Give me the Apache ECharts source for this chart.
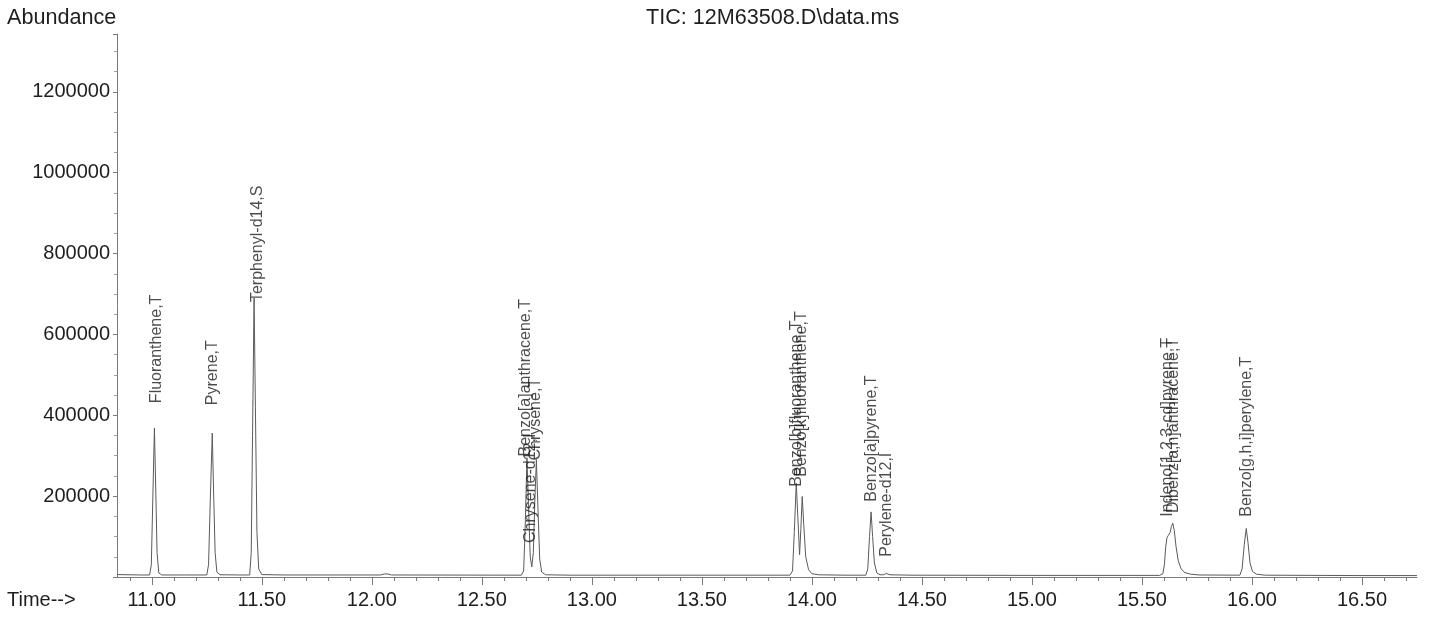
<!DOCTYPE html>
<html>
<head>
<meta charset="utf-8">
<title>TIC: 12M63508.D\data.ms</title>
<script src="https://cdn.jsdelivr.net/npm/echarts@6/dist/echarts.min.js"></script>
<style>
  html, body { margin: 0; padding: 0; background: #ffffff; }
  #chart { width: 1429px; height: 620px; }
</style>
</head>
<body>
<div id="chart"></div>
<script>
// Total ion chromatogram trace: [retention time (min), abundance]
const tracePoints = [
  [10.842, 6000], [10.95, 5000], [10.99, 5000], [10.998, 30000], [11.005, 200000],
  [11.012, 368000], [11.018, 220000], [11.024, 60000], [11.032, 10000], [11.045, 5000],
  [11.15, 5000],
  [11.25, 5000], [11.258, 30000], [11.266, 190000], [11.275, 356000], [11.281, 210000],
  [11.288, 60000], [11.296, 12000], [11.31, 5500], [11.40, 5000],
  [11.445, 5000], [11.452, 60000], [11.458, 350000], [11.465, 690000], [11.471, 420000],
  [11.478, 110000], [11.486, 20000], [11.50, 6000], [11.60, 5000],
  [12.04, 5000], [12.058, 7500], [12.065, 11000], [12.072, 7500], [12.09, 5000],
  [12.68, 4500], [12.69, 15000], [12.697, 120000], [12.705, 295000], [12.712, 180000],
  [12.72, 50000], [12.727, 25000], [12.734, 60000], [12.741, 190000], [12.748, 290000],
  [12.755, 170000], [12.763, 45000], [12.772, 12000], [12.79, 5500], [12.90, 4500],
  [13.90, 4500], [13.912, 15000], [13.92, 110000], [13.929, 232000], [13.936, 150000],
  [13.944, 55000], [13.95, 120000], [13.956, 199000], [13.963, 130000], [13.972, 50000],
  [13.985, 18000], [14.00, 8000], [14.03, 5500], [14.15, 4500],
  [14.245, 4500], [14.254, 20000], [14.262, 100000], [14.269, 161000], [14.276, 100000],
  [14.284, 35000], [14.295, 10000], [14.31, 5500],
  [14.325, 5500], [14.338, 8500], [14.355, 5500], [14.45, 4500], [15.00, 4000],
  [15.58, 4000], [15.595, 8000], [15.602, 30000], [15.608, 75000], [15.614, 98000],
  [15.62, 103000], [15.628, 110000], [15.634, 125000], [15.64, 133000], [15.647, 115000],
  [15.655, 75000], [15.665, 40000], [15.678, 20000], [15.695, 11000], [15.72, 7000],
  [15.76, 5000],
  [15.945, 4500], [15.955, 20000], [15.965, 80000], [15.974, 120000], [15.982, 85000],
  [15.991, 35000], [16.002, 14000], [16.02, 7000], [16.06, 4500],
  [16.50, 3500], [16.75, 3500]
];

// Compound annotations: name, time of the label and abundance where the text starts
const peakNames = [
  'Fluoranthene,T', 'Pyrene,T', 'Terphenyl-d14,S', 'Chrysene-d12,I',
  'Benzo[a]anthracene,T', 'Chrysene,T', 'Benzo[b]fluoranthene,T', 'Benzo[k]fluoranthene,T',
  'Benzo[a]pyrene,T', 'Perylene-d12,I', 'Indeno[1,2,3-cd]pyrene,T',
  'Dibenz[a,h]anthracene,T', 'Benzo[g,h,i]perylene,T'
];
const peakLabelTimes = [
  11.020, 11.277, 11.481, 12.720,
  12.699, 12.743, 13.930, 13.951,
  14.273, 14.338, 15.616,
  15.646, 15.977
];
const peakLabelAbundance = [
  430000, 425000, 680000, 84000,
  298000, 288000, 223000, 248000,
  186000, 50000, 149000,
  158000, 149000
];

// Axis ticks
const timeMajorTicks = [11.0, 11.5, 12.0, 12.5, 13.0, 13.5, 14.0, 14.5, 15.0, 15.5, 16.0, 16.5];
const timeTickLabels = ['11.00', '11.50', '12.00', '12.50', '13.00', '13.50', '14.00',
                        '14.50', '15.00', '15.50', '16.00', '16.50'];
const abundanceTickLabels = ['200000', '400000', '600000', '800000', '1000000', '1200000'];

const timeMin = 10.842, timeMax = 16.75;
const abundanceMax = 1343000;

// minor time ticks every 0.1 min
const timeMinorTicks = [];
for (let i = 109; i <= 167; i++) timeMinorTicks.push(i / 10);

const FONT = '"Liberation Sans", Arial, Helvetica, sans-serif';
const AXIS_GREY = '#7a7a7a';
const TEXT = '#1e1e1e';

const chart = echarts.init(document.getElementById('chart'), null, { renderer: 'canvas' });

chart.setOption({
  animation: false,
  backgroundColor: '#ffffff',
  textStyle: { fontFamily: FONT },
  grid: { left: 117, right: 12, top: 34, bottom: 43 },
  xAxis: [
    {
      type: 'value', min: timeMin, max: timeMax,
      axisLine: { show: true, onZero: false, lineStyle: { color: AXIS_GREY, width: 1 } },
      axisTick: { show: true, customValues: timeMajorTicks, length: 8, lineStyle: { color: AXIS_GREY } },
      axisLabel: {
        show: true, customValues: timeMajorTicks, margin: 13,
        fontFamily: FONT, fontSize: 20, color: TEXT,
        formatter: v => timeTickLabels[timeMajorTicks.findIndex(t => Math.abs(t - v) < 1e-6)] || ''
      },
      splitLine: { show: false }
    },
    {
      type: 'value', min: timeMin, max: timeMax, position: 'bottom',
      axisLine: { show: false },
      axisTick: { show: true, customValues: timeMinorTicks, length: 4, lineStyle: { color: AXIS_GREY } },
      axisLabel: { show: false },
      splitLine: { show: false }
    }
  ],
  yAxis: {
    type: 'value', min: 0, max: abundanceMax, interval: 200000,
    axisLine: { show: true, lineStyle: { color: AXIS_GREY, width: 1 } },
    axisTick: { show: true, length: 4, lineStyle: { color: AXIS_GREY } },
    minorTick: { show: true, splitNumber: 4, length: 3, lineStyle: { color: '#a0a0a0' } },
    axisLabel: {
      show: true, margin: 7, fontFamily: FONT, fontSize: 20, color: TEXT,
      formatter: v => abundanceTickLabels.includes(String(v)) ? String(v) : ''
    },
    splitLine: { show: false }
  },
  series: [
    {
      type: 'line',
      data: tracePoints,
      showSymbol: false,
      symbol: 'none',
      lineStyle: { color: '#5a5a5a', width: 1 },
      silent: true,
      z: 2
    },
    {
      type: 'scatter',
      data: peakNames.map((n, i) => ({ name: n, value: [peakLabelTimes[i], peakLabelAbundance[i]] })),
      symbolSize: 1,
      itemStyle: { color: 'rgba(0,0,0,0)' },
      silent: true,
      z: 3,
      label: {
        show: true, position: 'inside', rotate: 90, align: 'left', verticalAlign: 'middle',
        formatter: '{b}', fontFamily: FONT, fontSize: 16, color: TEXT
      }
    }
  ],
  graphic: [
    { type: 'text', left: 7, top: 7,
      style: { text: 'Abundance', font: '21.6px ' + FONT, fill: TEXT } },
    { type: 'text', left: 646, top: 7,
      style: { text: 'TIC: 12M63508.D\\data.ms', font: '21.6px ' + FONT, fill: TEXT } },
    { type: 'text', left: 7, top: 590,
      style: { text: 'Time-->', font: '20px ' + FONT, fill: TEXT } }
  ]
});
</script>
</body>
</html>
